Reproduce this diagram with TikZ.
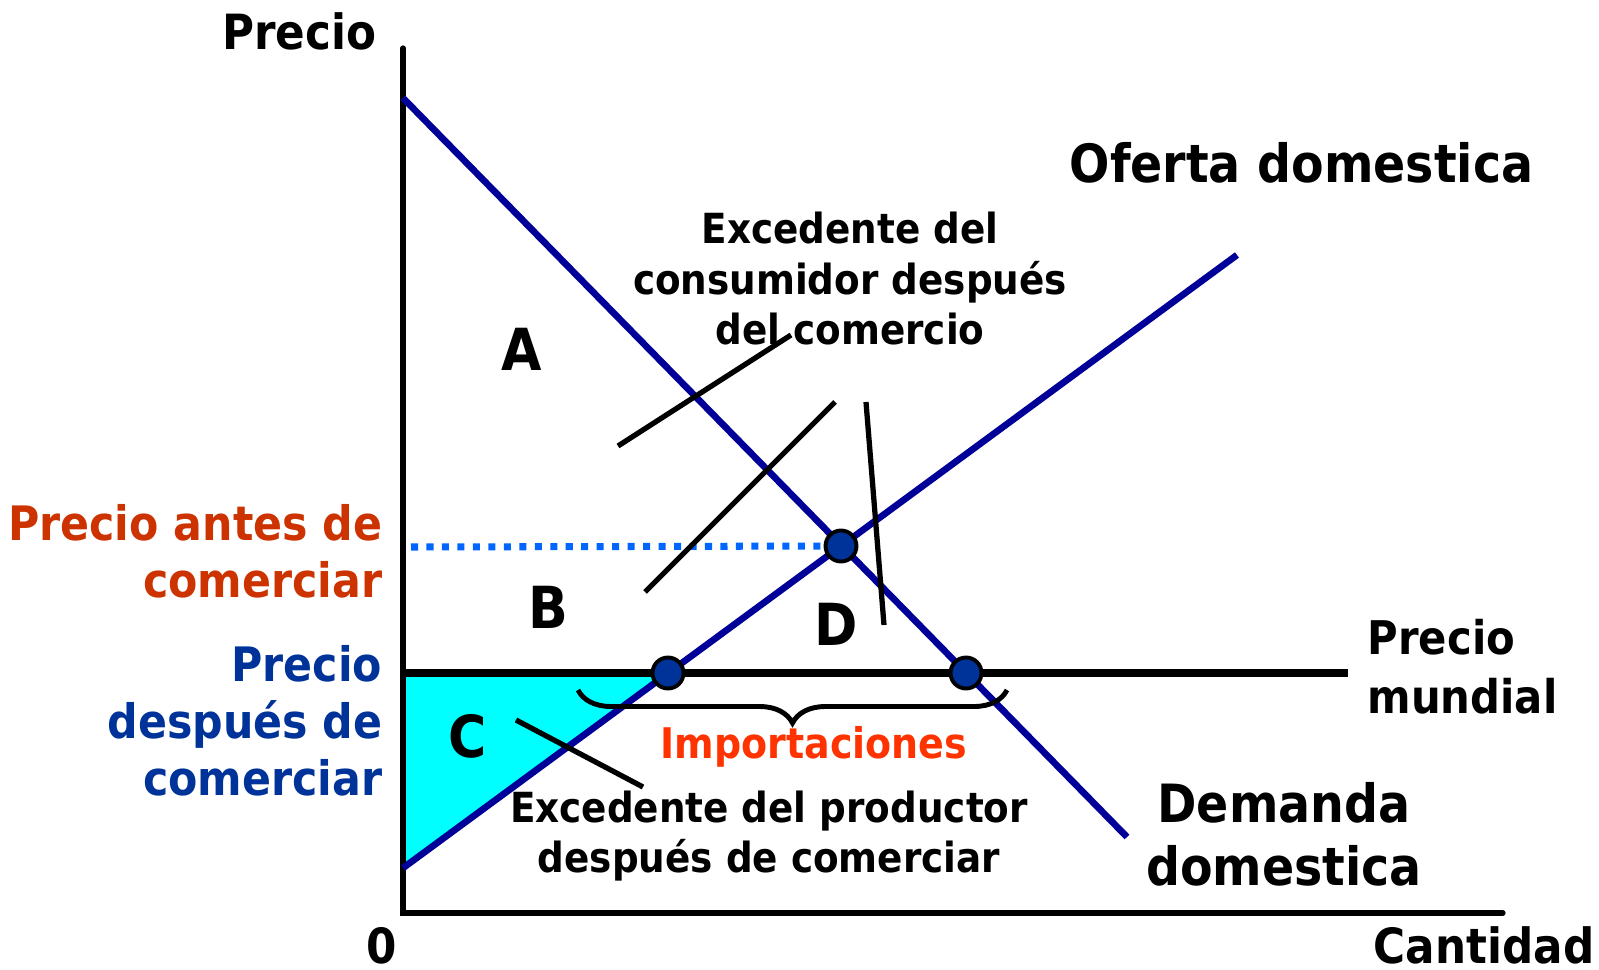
\documentclass[tikz,border=0pt]{standalone}
\usepackage{fontspec}
\setmainfont{DejaVu Sans}[FakeStretch=0.9]
\usetikzlibrary{decorations.pathreplacing}
\definecolor{curva}{HTML}{000099}
\definecolor{punto}{HTML}{003399}
\definecolor{antes}{HTML}{CC3300}
\definecolor{despues}{HTML}{003399}
\definecolor{importa}{HTML}{FF3300}
\definecolor{mundo}{HTML}{0066FF}
\definecolor{area}{HTML}{00FFFF}
\begin{document}
\begin{tikzpicture}[x=0.01cm,y=-0.01cm,
	eje/.style={line width=1.5pt,line cap=round},
	linea/.style={line width=1.9pt,curva},
	mundial/.style={line width=2.3pt},
	punteado/.style={line width=2pt,mundo,dash pattern=on 2pt off 2.4pt},
	guia/.style={line width=1.5pt},
	llave/.style={line width=1.4pt,decorate,decoration={brace,mirror,amplitude=0.33cm}},
	bola/.style={circle,draw,line width=1.1pt,fill=punto,minimum size=0.31cm,inner sep=0pt},
	titulo/.style={inner sep=0pt,font=\bfseries\fontsize{13.8}{16.5}\selectfont},
	nombre/.style={inner sep=0pt,font=\bfseries\fontsize{15}{17.9}\selectfont},
	precioizq/.style={inner sep=0pt,font=\bfseries\fontsize{13.5}{16.2}\selectfont},
	nota/.style={inner sep=0pt,font=\bfseries\fontsize{11.8}{14.5}\selectfont},
	letra/.style={inner sep=0pt,font=\bfseries\fontsize{16.5}{18}\selectfont}]
	\useasboundingbox (0,0) rectangle (1599,970);
	\coordinate (origen) at (403,913);
	\coordinate (ytop) at (403,48);
	\coordinate (xfin) at (1503,913);
	\coordinate (d0) at (403,98);
	\coordinate (d1) at (1127,837);
	\coordinate (s0) at (403,868);
	\coordinate (s1) at (1237,255);
	\coordinate (pm0) at (403,673);
	\coordinate (pm1) at (1348,673);
	\coordinate (pa0) at (411,547);
	\coordinate (qe) at (841,546);
	\coordinate (qs) at (668,673);
	\coordinate (qd) at (966,673);

	\fill[area] (pm0) -- (qs) -- (s0) -- cycle;
	\draw[eje] (ytop) -- (origen) -- (xfin);
	\draw[linea] (d0) -- (d1);
	\draw[linea] (s0) -- (s1);
	\draw[mundial] (pm0) -- (pm1);
	\draw[punteado] (pa0) -- (qe);

	\coordinate (ga0) at (618,446);
	\coordinate (ga1) at (791,335);
	\coordinate (gb0) at (645,592);
	\coordinate (gb1) at (835,402);
	\coordinate (gd0) at (884,625);
	\coordinate (gd1) at (866,402);
	\coordinate (gc0) at (516,720);
	\coordinate (gc1) at (643,787);
	\draw[guia] (ga0) -- (ga1);
	\draw[guia] (gb0) -- (gb1);
	\draw[guia] (gd0) -- (gd1);
	\draw[guia] (gc0) -- (gc1);
	\coordinate (ll0) at (578,690);
	\coordinate (ll1) at (1007,690);
	\draw[llave] (ll0) -- (ll1);

	\node[bola] (eq) at (qe) {};
	\node[bola] (eqs) at (qs) {};
	\node[bola] (eqd) at (qd) {};

	\node[titulo,anchor=base east] (precio) at (377,50) {Precio};
	\node[titulo,anchor=base east] (cero) at (398,963) {0};
	\node[titulo,anchor=base east] (cantidad) at (1595,963) {Cantidad};
	\node[nombre,anchor=base west] (oferta) at (1069,183) {Oferta domestica};
	\node[nombre,anchor=base,align=center] (demanda) at (1284,885) {Demanda\\domestica};
	\node[precioizq,font=\bfseries\fontsize{13.2}{16.5}\selectfont,anchor=base west,align=left] (pmundial) at (1367,713) {Precio\\mundial};
	\node[precioizq,text=antes,anchor=base east,align=right] (pantes) at (383,597) {Precio antes de\\comerciar};
	\node[precioizq,text=despues,anchor=base east,align=right] (pdespues) at (383,795) {Precio\\después de\\comerciar};
	\node[nota,anchor=base,align=center] (exccons) at (850,345) {Excedente del\\consumidor después\\del comercio};
	\node[nota,font=\bfseries\fontsize{11.8}{14.2}\selectfont,anchor=base,align=center] (excprod) at (769,872) {Excedente del productor\\después de comerciar};
	\node[nota,font=\bfseries\fontsize{12}{14}\selectfont,text=importa,anchor=base] (importaciones) at (814,758) {Importaciones};
	\node[letra] (A) at (522,349) {A};
	\node[letra] (B) at (548,607) {B};
	\node[letra] (C) at (468,736) {C};
	\node[letra] (D) at (836,624) {D};
\end{tikzpicture}
\end{document}
